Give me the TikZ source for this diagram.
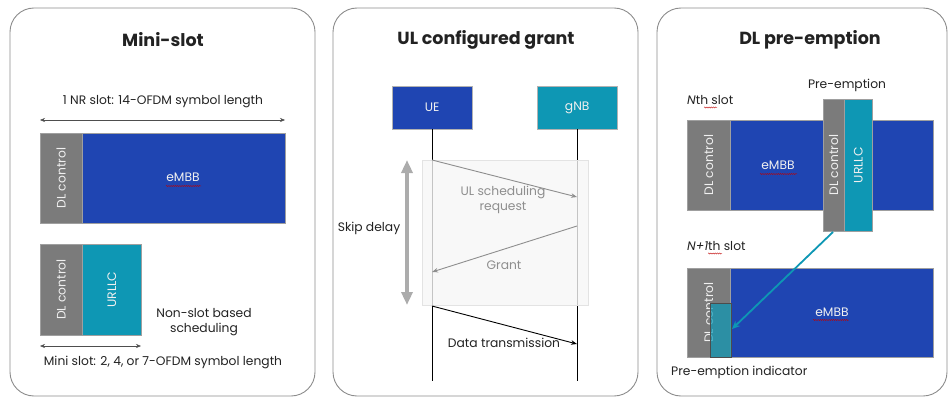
\documentclass[tikz,border=0pt]{standalone}
\usepackage{fontspec}
\setmainfont{Poppins}
\usetikzlibrary{arrows.meta,decorations.pathmorphing}

\definecolor{nrblue}{HTML}{1F45B2}
\definecolor{nrteal}{HTML}{0E97B4}
\definecolor{nrgray}{HTML}{7B7B7B}
\definecolor{framegray}{HTML}{8C8C8C}
\definecolor{msggray}{HTML}{8E8E8E}
\definecolor{inkdark}{HTML}{222222}

\begin{document}
\begin{tikzpicture}[x=1pt,y=-1pt,
  panel/.style={draw=framegray, line width=0.9pt, rounded corners=24pt},
  title/.style={font=\fontsize{17.5}{20}\selectfont\bfseries, text=inkdark},
  lbl/.style={font=\fontsize{12.3}{14}\selectfont, text=inkdark, inner sep=1pt},
  blk/.style={anchor=north west, inner sep=0pt, draw=gray!75, line width=0.4pt},
  ctrl/.style={blk, fill=nrgray},
  embb/.style={blk, fill=nrblue},
  urllc/.style={blk, fill=nrteal},
  intext/.style={font=\fontsize{12.3}{14}\selectfont, text=white!88!gray, inner sep=0pt},
  vtext/.style={intext, rotate=90},
  span/.style={{Stealth[length=5pt,width=4pt]}-{Stealth[length=5pt,width=4pt]}, draw=inkdark!80, line width=0.5pt},
  ent/.style={anchor=north west, inner sep=0pt, minimum width=80pt, minimum height=43pt, draw=gray!60, line width=0.4pt},
  life/.style={draw=black, line width=0.9pt},
  msg/.style={-{Stealth[length=6pt,width=4.5pt]}, draw=msggray, line width=0.9pt},
  squig/.style={draw=red!75!black, line width=0.35pt, decorate,
    decoration={snake, amplitude=0.6pt, segment length=2.2pt}}
]
\useasboundingbox (0,0) rectangle (949,398);

% ---------- panel frames ----------
\draw[panel] (10,8) rectangle (315,396);
\draw[panel] (333,8) rectangle (638,396);
\draw[panel] (657,8) rectangle (947,396);

% ---------- Mini-slot ----------
\node[title] (t1) at (163,40) {Mini-slot};

\node[lbl] (nrslot) at (163,102) {1 NR slot: 14-OFDM symbol length};
\coordinate (nrL) at (40,120);
\coordinate (nrR) at (285,120);
\draw[span] (nrL) -- (nrR);

\node[embb, minimum width=245pt, minimum height=90pt] (slotA) at (40,133) {};
\node[ctrl, minimum width=42pt, minimum height=90pt] (ctrlA) at (40,133) {};
\node[vtext] (ctrlAt) at (ctrlA.center) {DL control};
\node[intext] (embbA) at (183,177) {eMBB};
\draw[squig] (166,186) -- (201,186);

\node[ctrl, minimum width=42pt, minimum height=91pt] (ctrlB) at (40,244) {};
\node[urllc, minimum width=59pt, minimum height=91pt] (urB) at (82,244) {};
\node[vtext] (ctrlBt) at (ctrlB.center) {DL control};
\node[vtext] (urBt) at (urB.center) {URLLC};

\node[lbl, align=center, font=\fontsize{12.3}{14.5}\selectfont] (nonslot) at (204,322) {Non-slot based\\scheduling};
\coordinate (msL) at (40,346);
\coordinate (msR) at (141,346);
\draw[span] (msL) -- (msR);
\node[lbl] (minitext) at (163,362) {Mini slot: 2, 4, or 7-OFDM symbol length};

% ---------- UL configured grant ----------
\node[title] (t2) at (486,40) {UL configured grant};

\node[ent, fill=nrblue] (ue) at (392,86) {};
\node[intext] at (ue.center) {UE};
\node[ent, fill=nrteal] (gnb) at (537,86) {};
\node[intext] at (gnb.center) {gNB};

\coordinate (ueEnd) at (432,381);
\coordinate (gnbEnd) at (577,381);
\draw[life] (ue.south -| ueEnd) -- (ueEnd);
\draw[life] (gnb.south -| gnbEnd) -- (gnbEnd);

% the skipped request/grant exchange, greyed out
\node[anchor=north west, inner sep=0pt, minimum width=166pt, minimum height=145pt,
      fill=gray!7, fill opacity=0.8, draw=gray!22, line width=0.6pt] (skipbox) at (422,160) {};

\coordinate (reqA) at (432,160);
\coordinate (reqB) at (577,197);
\draw[msg] (reqA) -- (reqB);
\node[lbl, text=msggray, align=center, font=\fontsize{12.3}{14.5}\selectfont] (reqt) at (503,200) {UL scheduling\\request};

\coordinate (grA) at (577,226);
\coordinate (grB) at (432,272);
\draw[msg] (grA) -- (grB);
\node[lbl, text=msggray] (grt) at (504,265) {Grant};

\coordinate (skT) at (407,160);
\coordinate (skB) at (407,305);
\draw[draw=gray!65, line width=3.6pt,
      {Triangle[length=13pt,width=11pt]}-{Triangle[length=13pt,width=11pt]}] (skT) -- (skB);
\node[lbl] (skipt) at (369,228) {Skip delay};

\coordinate (dtA) at (432,306);
\coordinate (dtB) at (577,344);
\draw[msg, draw=black] (dtA) -- (dtB);
\node[lbl] (dtt) at (504,343) {Data transmission};

% ---------- DL pre-emption ----------
\node[title] (t3) at (810,40) {DL pre-emption};

\node[lbl] (pret) at (847,85) {Pre-emption};
\node[lbl, anchor=west] (nth) at (686,100) {\itshape N\upshape th slot};
\draw[squig] (704,107.5) -- (717,107.5);

\node[embb, minimum width=246pt, minimum height=90pt] (slotN) at (687,120) {};
\node[ctrl, minimum width=43pt, minimum height=90pt] (ctrlN) at (687,120) {};
\node[vtext] at (ctrlN.center) {DL control};
\node[intext] (embbN) at (778,165) {eMBB};
\draw[squig] (760,174) -- (797,174);

\node[ctrl, minimum width=21pt, minimum height=132pt] (ctrlP) at (823,99) {};
\node[urllc, minimum width=28pt, minimum height=132pt] (urP) at (844,99) {};
\node[vtext] at (ctrlP.center) {DL control};
\node[vtext] at (urP.center) {URLLC};

\node[lbl, anchor=west] (n1th) at (686,246) {\itshape N+1\upshape th slot};
\draw[squig] (708,253.5) -- (722,253.5);

\node[embb, minimum width=246pt, minimum height=89pt] (slotN1) at (687,268) {};
\node[ctrl, minimum width=43pt, minimum height=89pt] (ctrlN1) at (687,268) {};
\node[vtext] at (ctrlN1.center) {DL control};
\node[blk, fill=nrteal, fill opacity=0.72, draw=gray!60!black, minimum width=21pt, minimum height=54pt] (ind) at (710,303) {};
\node[intext] (embbN1) at (832,312) {eMBB};
\draw[squig] (813,320) -- (849,320);

\coordinate (pA) at (833,232);
\coordinate (pB) at (732,329);
\draw[draw=nrteal, line width=1.8pt, -{Stealth[length=8pt,width=7pt]}] (pA) -- (pB);

\node[lbl, anchor=west] (indt) at (670,372) {Pre-emption indicator};
\end{tikzpicture}
\end{document}
